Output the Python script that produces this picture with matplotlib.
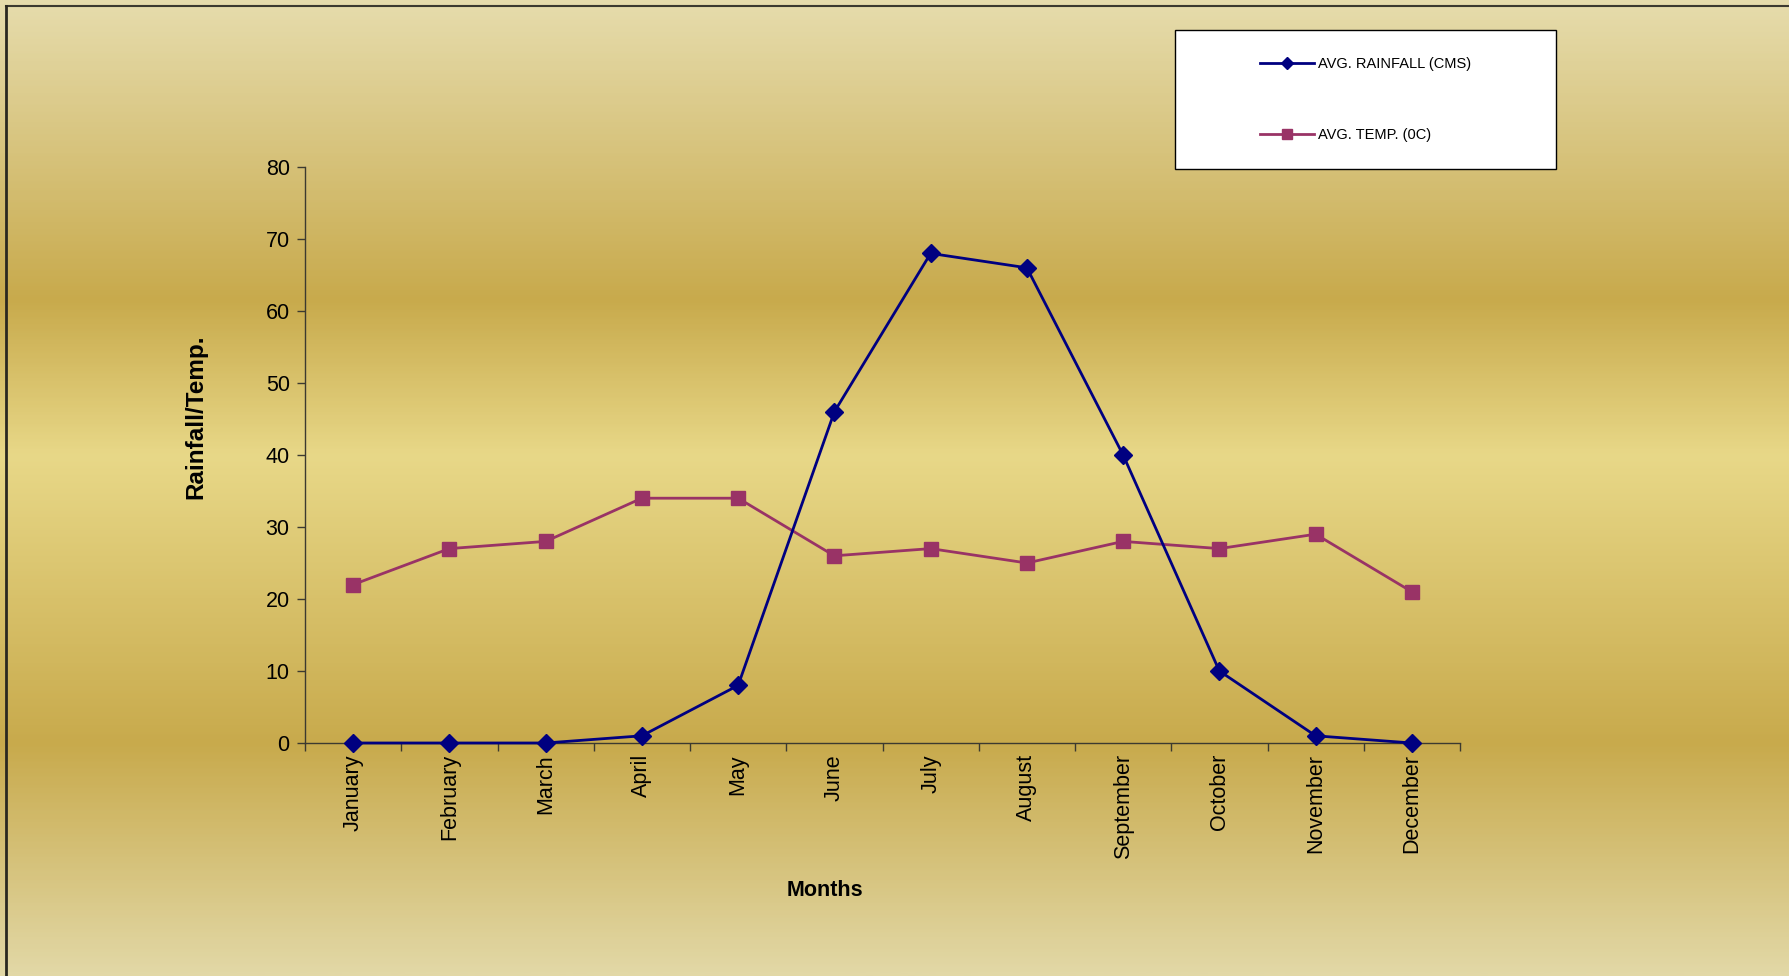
import matplotlib.pyplot as plt
import numpy as np
from matplotlib.colors import LinearSegmentedColormap
from matplotlib.lines import Line2D
from matplotlib.patches import Rectangle

plt.rcParams['font.family'] = ['Liberation Sans', 'DejaVu Sans']

months = ['January', 'February', 'March', 'April', 'May', 'June', 'July',
          'August', 'September', 'October', 'November', 'December']
rainfall = [0, 0, 0, 1, 8, 46, 68, 66, 40, 10, 1, 0]
temp = [22, 27, 28, 34, 34, 26, 27, 25, 28, 27, 29, 21]
series_names = ['AVG. RAINFALL (CMS)', 'AVG. TEMP. (0C)']

W, H = 1789, 976
fig = plt.figure(figsize=(W / 100, H / 100), dpi=100)

# gold gradient background
bg = fig.add_axes([0, 0, 1, 1], zorder=-10)
cmap = LinearSegmentedColormap.from_list('gold', [
    (0.0, '#e6dcac'), (0.306, '#c8aa4c'), (0.467, '#e8d888'),
    (0.763, '#c8aa4c'), (1.0, '#e2d8a6')])
bg.imshow(np.linspace(0, 1, 400).reshape(-1, 1), cmap=cmap, aspect='auto',
          extent=[0, 1, 0, 1])
bg.set_xlim(0, 1)
bg.set_ylim(0, 1)
bg.axis('off')
# frame line on top and left
bg.add_line(Line2D([6 / W, 1], [1 - 6 / H, 1 - 6 / H], color='#3c3a30', lw=1.5))
bg.add_line(Line2D([6 / W, 6 / W], [0, 1 - 6 / H], color='#2a2820', lw=2))

ax = fig.add_axes([305 / W, 1 - 743 / H, (1460 - 305) / W, (743 - 167) / H])
ax.patch.set_alpha(0)
x = np.arange(len(months))
ax.plot(x, rainfall, color='#000080', lw=2, marker='D', ms=9, clip_on=False, zorder=3)
ax.plot(x, temp, color='#993366', lw=2, marker='s', ms=9.5, clip_on=False, zorder=2)

ax.set_xlim(-0.5, len(months) - 0.5)
ax.set_ylim(0, 80)
ax.set_yticks(range(0, 81, 10))
ax.set_xticks(x)
ax.set_xticklabels(months, rotation=90)
ax.set_xticks(np.arange(-0.5, len(months), 1), minor=True)
ax.tick_params(axis='x', which='major', length=0, pad=8, labelsize=15.5)
ax.tick_params(axis='x', which='minor', length=6, color='#3c3a30', width=1)
ax.tick_params(axis='y', length=6, color='#3c3a30', width=1, labelsize=15.5, pad=5)
for s in ['top', 'right']:
    ax.spines[s].set_visible(False)
for s in ['left', 'bottom']:
    ax.spines[s].set_color('#3c3a30')
    ax.spines[s].set_linewidth(1)

fig.text(196 / W, 1 - 417 / H, 'Rainfall/Temp.', rotation=90, ha='center', va='center',
         fontsize=17.5, fontweight='bold')
fig.text(825 / W, 1 - 891 / H, 'Months', ha='center', va='center',
         fontsize=15.5, fontweight='bold')

# legend box
fig.patches.append(Rectangle((1175 / W, 1 - 169 / H), (1556 - 1175) / W, (169 - 30) / H,
                             transform=fig.transFigure, facecolor='white',
                             edgecolor='black', lw=1, zorder=5))
handles = [Line2D([], [], color='#000080', lw=2, marker='D', ms=6),
           Line2D([], [], color='#993366', lw=2, marker='s', ms=7)]
leg = fig.legend(handles, series_names, loc='center left', frameon=False,
                 bbox_to_anchor=(1260 / W, 1 - 99.5 / H), bbox_transform=fig.transFigure,
                 borderpad=0, borderaxespad=0, handlelength=3.7, handletextpad=0.3,
                 labelspacing=3.95, fontsize=10.5)
leg.set_zorder(6)

fig.savefig('out.png', dpi=100)
